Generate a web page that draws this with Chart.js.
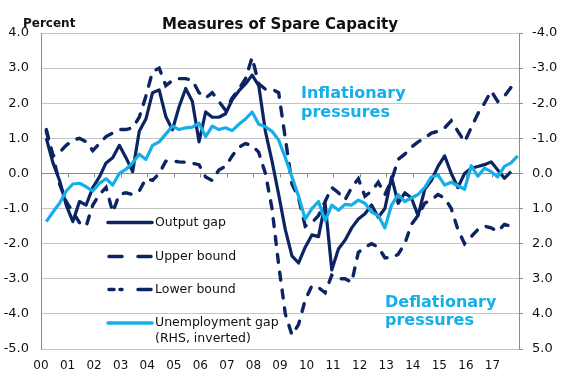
<!DOCTYPE html>
<html><head><meta charset="utf-8">
<script src="https://cdn.jsdelivr.net/npm/chart.js@4.4.1/dist/chart.umd.min.js"></script>
<style>html,body{margin:0;padding:0;background:#fff}#wrap{width:569px;height:381px;position:relative}</style>
</head><body><div id="wrap"><canvas id="c" width="569" height="381"></canvas></div>
<script>
// Years on the x axis (labels at the start of each year)
const yearLabels = ['00','01','02','03','04','05','06','07','08','09','10','11','12','13','14','15','16','17'];
// Quarterly series, 2000Q1 onwards (percent)
const outputGap = [1.0,0.3,-0.2,-0.9,-1.37,-0.8,-0.9,-0.4,-0.1,0.3,0.45,0.8,0.45,0.05,1.2,1.55,2.3,2.38,1.62,1.24,
  1.9,2.42,2.05,0.9,1.75,1.6,1.6,1.7,2.1,2.35,2.55,2.8,2.5,1.2,0.35,-0.6,-1.6,-2.35,-2.55,-2.1,
  -1.75,-1.8,-0.85,-2.75,-2.15,-1.9,-1.55,-1.3,-1.15,-0.9,-1.25,-1.0,-0.1,-0.85,-0.55,-0.7,-1.2,-0.45,-0.2,0.2,
  0.5,0.0,-0.4,0.0,0.15,0.2,0.25,0.33,0.1,-0.14,0.05];
const upperBound = [1.25,0.5,0.6,0.8,0.95,1.0,0.9,0.65,0.85,1.05,1.15,1.25,1.25,1.3,1.6,2.2,2.9,3.0,2.5,2.65,
  2.7,2.7,2.65,2.3,2.15,2.3,2.05,1.8,2.15,2.4,2.7,3.3,2.55,2.4,2.4,2.3,1.0,-0.3,-0.7,-1.5,
  -1.4,-1.2,-0.8,-0.4,-0.55,-0.75,-0.4,-0.15,-0.65,-0.5,-0.25,-0.6,-0.2,0.4,0.55,0.75,0.9,1.0,1.15,1.2,
  1.3,1.5,1.2,0.9,1.3,1.7,2.0,2.35,2.05,2.2,2.45];
const lowerBound = [1.2,0.5,-0.3,-0.8,-1.1,-1.4,-1.5,-0.9,-0.6,-0.4,-1.1,-0.6,-0.55,-0.6,-0.5,-0.15,-0.2,0.0,0.35,0.35,
  0.33,0.32,0.29,0.25,-0.1,-0.2,0.1,0.2,0.5,0.75,0.85,0.8,0.6,0.0,-1.0,-2.6,-4.0,-4.6,-4.3,-3.6,
  -3.2,-3.25,-3.4,-2.9,-3.0,-3.0,-3.1,-2.25,-2.1,-2.0,-2.1,-2.4,-2.4,-2.3,-2.0,-1.45,-1.2,-0.85,-0.75,-0.6,
  -0.7,-1.0,-1.6,-2.0,-1.8,-1.6,-1.5,-1.55,-1.65,-1.45,-1.5];
// Unemployment gap, RHS (inverted axis)
const unemploymentGap = [1.37,1.1,0.85,0.5,0.3,0.28,0.38,0.5,0.28,0.15,0.33,0.0,-0.12,-0.3,-0.55,-0.4,-0.8,-0.9,-1.12,-1.35,
  -1.25,-1.3,-1.32,-1.43,-1.05,-1.35,-1.25,-1.3,-1.22,-1.4,-1.55,-1.75,-1.4,-1.33,-1.2,-0.95,-0.45,0.1,0.65,1.3,
  1.0,0.8,1.35,0.9,1.05,0.88,0.9,0.76,0.85,1.1,1.2,1.55,0.9,0.6,0.8,0.7,0.6,0.4,0.1,0.05,
  0.33,0.25,0.35,0.45,-0.22,0.08,-0.15,-0.05,0.1,-0.2,-0.3,-0.5];
const leftRange = [-5, 4];
const rightRange = [-4, 5];

const NAVY = '#0c2461';
const LIGHT = '#14aee8';
const FONT = "'DejaVu Sans', Verdana, sans-serif";
const QSTART = 0.2; // position of first quarter within year 00

function toXY(arr){ return arr.map((v,i)=>({x: QSTART + i*0.25, y: v})); }

const decor = {
  id: 'decor',
  beforeDatasetsDraw(chart){
    const {ctx, scales:{x, y}} = chart;
    const y0 = Math.round(y.getPixelForValue(0)) + 0.5;
    ctx.save();
    ctx.strokeStyle = '#8c8c8c'; ctx.lineWidth = 1;
    ctx.beginPath();
    ctx.moveTo(x.left, y0); ctx.lineTo(x.right, y0);
    for (let k = 1; k < yearLabels.length; k++) {
      const px = Math.round(x.getPixelForValue(k)) + 0.5;
      ctx.moveTo(px, y0); ctx.lineTo(px, y0 + 4);
    }
    ctx.stroke();
    ctx.restore();
  },
  afterDraw(chart){
    const {ctx} = chart;
    ctx.save();
    ctx.fillStyle = '#111';
    ctx.textBaseline = 'alphabetic';
    ctx.font = "bold 15px " + FONT;
    ctx.textAlign = 'center';
    ctx.fillText('Measures of Spare Capacity', 280, 29);
    ctx.textAlign = 'left';
    ctx.font = "bold 12px " + FONT;
    ctx.fillText('Percent', 23, 27);

    ctx.fillStyle = LIGHT;
    ctx.font = "bold 16px " + FONT;
    ctx.fillText('Inflationary', 301, 98);
    ctx.fillText('pressures', 301, 117);
    ctx.fillText('Deflationary', 385, 307);
    ctx.fillText('pressures', 385, 325);

    // legend
    const rows = [
      {label:['Output gap'], color:NAVY, y:222.5, segs:[[108,152]], w:3.5},
      {label:['Upper bound'], color:NAVY, y:256.5, segs:[[109,122],[138,151]], w:3.5},
      {label:['Lower bound'], color:NAVY, y:289.5, segs:[[109,114],[120,122],[138,151]], w:3.5},
      {label:['Unemployment gap','(RHS, inverted)'], color:LIGHT, y:323, segs:[[108,152]], w:3.5}
    ];
    ctx.font = "12.5px " + FONT;
    ctx.textBaseline = 'middle';
    rows.forEach(r=>{
      ctx.strokeStyle = r.color; ctx.lineWidth = r.w; ctx.lineCap = 'round';
      ctx.beginPath();
      r.segs.forEach(s=>{ ctx.moveTo(s[0], r.y); ctx.lineTo(s[1], r.y); });
      ctx.stroke();
      ctx.fillStyle = '#111';
      r.label.forEach((t,j)=> ctx.fillText(t, 155, r.y + j*16));
    });
    ctx.restore();
  }
};

new Chart(document.getElementById('c'), {
  type: 'line',
  data: {
    datasets: [
      {label:'Unemployment gap (RHS, inverted)', data: toXY(unemploymentGap), yAxisID:'y2', borderColor: LIGHT, borderWidth: 3.2, pointRadius:0, borderJoinStyle:'round'},
      {label:'Output gap', data: toXY(outputGap), yAxisID:'y', borderColor: NAVY, borderWidth: 3.2, pointRadius:0, borderJoinStyle:'round'},
      {label:'Upper bound', data: toXY(upperBound), yAxisID:'y', borderColor: NAVY, borderWidth: 3.4, pointRadius:0, borderDash:[9,10], borderCapStyle:'round'},
      {label:'Lower bound', data: toXY(lowerBound), yAxisID:'y', borderColor: NAVY, borderWidth: 3.4, pointRadius:0, borderDash:[8,10], borderCapStyle:'round'}
    ]
  },
  options: {
    responsive: false,
    animation: false,
    devicePixelRatio: 1,
    layout: {padding: {top: 33, left: 0, right: 0, bottom: 0}},
    plugins: {legend: {display:false}, title: {display:false}, tooltip: {enabled:false}},
    scales: {
      x: {
        type:'linear', position:'bottom', min:0, max:yearLabels.length,
        grid:{display:false, drawTicks:false}, border:{display:false},
        ticks:{stepSize:1, autoSkip:false, maxRotation:0, padding:10, color:'#111', font:{family:FONT, size:12},
          callback:(v)=> (yearLabels[v] !== undefined ? yearLabels[v] : '')},
        afterFit:(s)=>{ s.height = 32; }
      },
      y: {
        type:'linear', position:'left', min:leftRange[0], max:leftRange[1],
        grid:{color:(c)=> c.tick && c.tick.value===0 ? 'rgba(0,0,0,0)' : '#c4c4c4', drawTicks:false, lineWidth:1},
        border:{color:'#8c8c8c'},
        ticks:{stepSize:1, padding:12, color:'#111', font:{family:FONT, size:13}, callback:(v)=> v.toFixed(1)},
        afterFit:(s)=>{ s.width = 41; }
      },
      y2: {
        type:'linear', position:'right', min:rightRange[0], max:rightRange[1], reverse:true,
        grid:{drawOnChartArea:false, drawTicks:true, tickLength:4, color:'#8c8c8c'},
        border:{color:'#8c8c8c'},
        ticks:{stepSize:1, padding:9, color:'#111', font:{family:FONT, size:13}, callback:(v)=> v.toFixed(1)},
        afterFit:(s)=>{ s.width = 50; }
      }
    }
  },
  plugins:[decor]
});
</script></body></html>
